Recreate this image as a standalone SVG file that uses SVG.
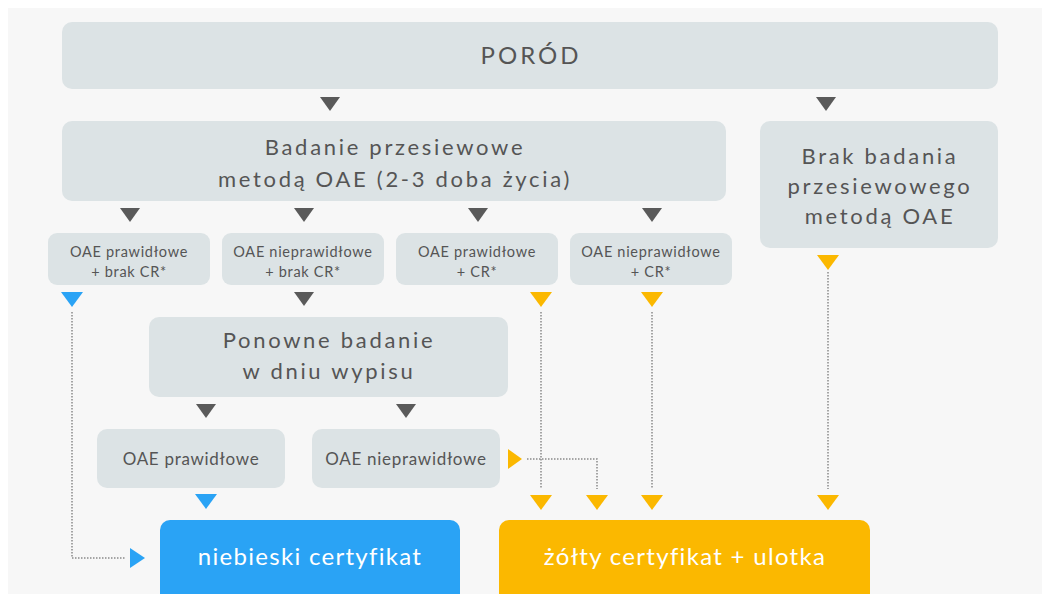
<svg xmlns="http://www.w3.org/2000/svg" width="1050" height="594" viewBox="0 0 1050 594">
<defs>
<style>
.box{fill:#dce3e5}
.t{font-family:Lato,"Open Sans","Liberation Sans",sans-serif;fill:#555;text-anchor:middle}
.big{font-size:22px;letter-spacing:2.7px}
.sm{font-size:14.5px;letter-spacing:0.7px}
.md{font-size:17px;letter-spacing:0.7px}
.w{fill:#fff;font-size:24px;letter-spacing:1.3px}
.dk{fill:#5a5a5a}
.bl{fill:#2aa3f5}
.ye{fill:#fbb800}
.dot{fill:none;stroke:#8a8a8a;stroke-width:1.5;stroke-dasharray:1.5 1.5}
</style>
<path id="down" d="M-10,0 L10,0 L0,14 Z"/>
<path id="downc" d="M-11,0 L11,0 L0,15 Z"/>
<path id="right" d="M0,-10 L0,10 L14,0 Z"/>
</defs>
<rect width="1050" height="594" fill="#fff"/>
<rect x="8" y="8" width="1034" height="586" fill="#f7f7f7"/>

<g id="porod"><rect class="box" x="62" y="22" width="936" height="67" rx="10"/><text class="t" x="531" y="64" style="font-size:24px;letter-spacing:3px">PORÓD</text></g>
<g id="badanie"><rect class="box" x="62" y="121" width="664" height="80" rx="10"/><text class="t big" x="395" y="155">Badanie przesiewowe</text><text class="t big" x="395" y="187">metodą OAE (2-3 doba życia)</text></g>
<g id="brak"><rect class="box" x="760" y="121" width="238" height="127" rx="10"/><text class="t big" x="880" y="164">Brak badania</text><text class="t big" x="880" y="194">przesiewowego</text><text class="t big" x="880" y="224">metodą OAE</text></g>
<g id="oae1"><rect class="box" x="48" y="233" width="162" height="52" rx="9"/><text class="t sm" x="129" y="257">OAE prawidłowe</text><text class="t sm" x="129" y="277">+ brak CR*</text></g>
<g id="oae2"><rect class="box" x="222" y="233" width="162" height="52" rx="9"/><text class="t sm" x="303" y="257">OAE nieprawidłowe</text><text class="t sm" x="303" y="277">+ brak CR*</text></g>
<g id="oae3"><rect class="box" x="396" y="233" width="162" height="52" rx="9"/><text class="t sm" x="477" y="257">OAE prawidłowe</text><text class="t sm" x="477" y="277">+ CR*</text></g>
<g id="oae4"><rect class="box" x="570" y="233" width="162" height="52" rx="9"/><text class="t sm" x="651" y="257">OAE nieprawidłowe</text><text class="t sm" x="651" y="277">+ CR*</text></g>
<g id="ponowne"><rect class="box" x="149" y="317" width="359" height="80" rx="10"/><text class="t big" x="329" y="348">Ponowne badanie</text><text class="t big" x="329" y="379">w dniu wypisu</text></g>
<g id="oae5"><rect class="box" x="97" y="429" width="188" height="59" rx="10"/><text class="t md" x="191" y="465">OAE prawidłowe</text></g>
<g id="oae6"><rect class="box" x="312" y="429" width="188" height="59" rx="10"/><text class="t md" x="406" y="465">OAE nieprawidłowe</text></g>
<g id="niebieski"><rect x="160" y="520" width="300" height="90" rx="10" fill="#2aa3f5"/><text class="t w" x="310" y="565">niebieski certyfikat</text></g>
<g id="zolty"><rect x="499" y="520" width="371" height="90" rx="10" fill="#fbb800"/><text class="t w" x="685" y="565">żółty certyfikat + ulotka</text></g>

<g id="connectors">
<use href="#down" class="dk" x="330" y="97"/>
<use href="#down" class="dk" x="826" y="97"/>
<use href="#down" class="dk" x="130" y="208"/>
<use href="#down" class="dk" x="304" y="208"/>
<use href="#down" class="dk" x="478" y="208"/>
<use href="#down" class="dk" x="652" y="208"/>
<use href="#downc" class="bl" x="72" y="292"/>
<use href="#down" class="dk" x="304" y="292"/>
<use href="#downc" class="ye" x="541" y="292"/>
<use href="#downc" class="ye" x="652" y="292"/>
<use href="#downc" class="ye" x="828" y="255"/>
<use href="#down" class="dk" x="206" y="404"/>
<use href="#down" class="dk" x="406" y="404"/>
<use href="#downc" class="bl" x="206" y="494"/>
<use href="#right" class="ye" x="508" y="459"/>
<use href="#downc" class="ye" x="541" y="495"/>
<use href="#downc" class="ye" x="597" y="495"/>
<use href="#downc" class="ye" x="652" y="495"/>
<use href="#downc" class="ye" x="828" y="495"/>
<path id="right-b" class="bl" d="M130,548 L130,568 L145,558 Z"/>
<path class="dot" d="M72,312 V558 H126"/>
<path class="dot" d="M541,312 V489"/>
<path class="dot" d="M652,312 V489"/>
<path class="dot" d="M828,272 V489"/>
<path class="dot" d="M527,459 H597 V489"/>
</g>
</svg>
